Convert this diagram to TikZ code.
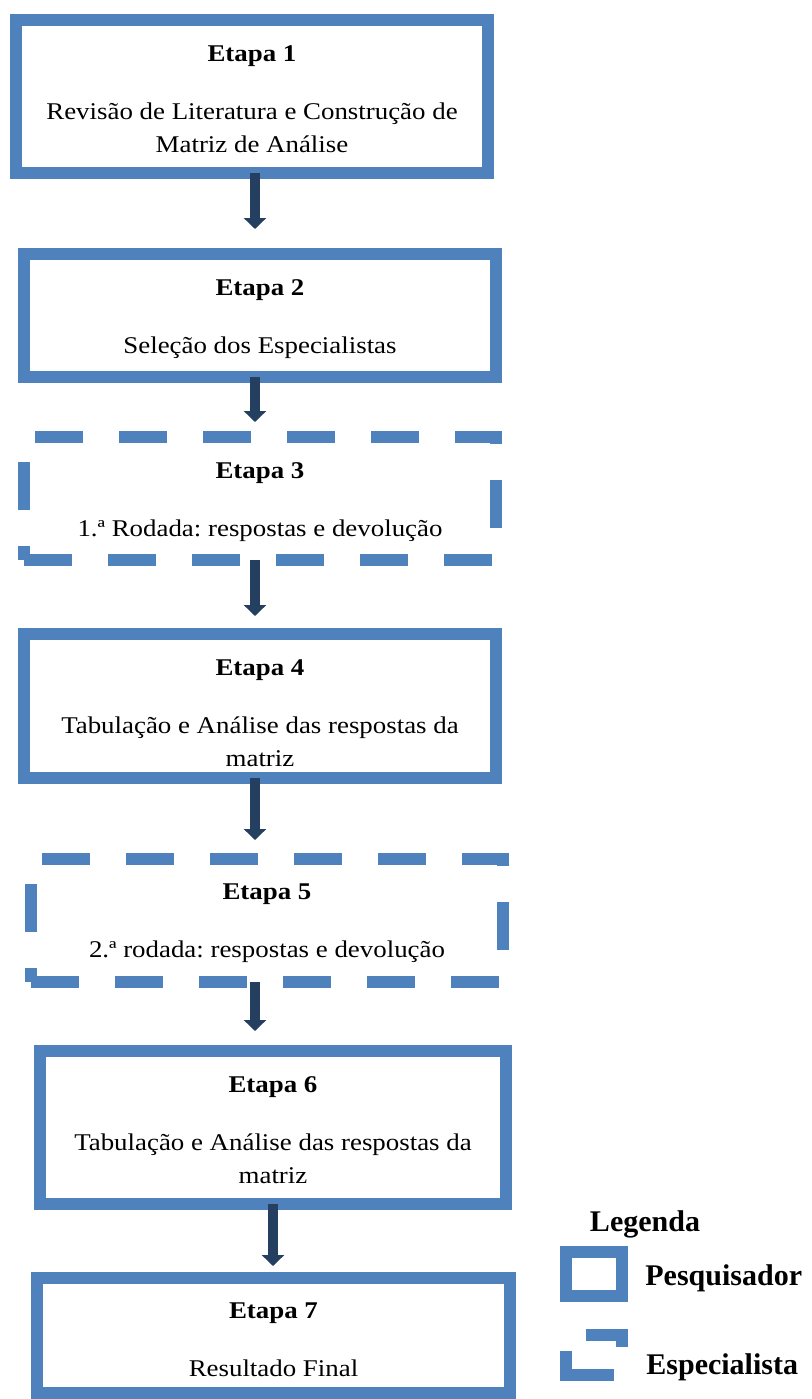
\documentclass[tikz,border=0pt]{standalone}
\usepackage{fontspec}
\setmainfont{Liberation Serif}[FakeStretch=1.12]
\newfontfamily\legendfont{Liberation Serif}
\usetikzlibrary{arrows.meta,positioning}
\definecolor{boxblue}{HTML}{4F81BD}
\definecolor{arrownavy}{HTML}{243F60}
\frenchspacing

\begin{document}
\begin{tikzpicture}[x=0.5pt, y=-0.5pt, every node/.style={font=\fontsize{12}{16.5}\selectfont},
	stepbox/.style={draw=boxblue, line width=6pt, outer sep=0pt, inner sep=0pt},
	specbox/.style={inner sep=0pt, outer sep=0pt},
	specline/.style={draw=boxblue, line width=6pt, dash pattern=on 24pt off 18pt, dash phase=17pt},
	steptext/.style={anchor=north, align=center, inner sep=0pt},
	flow/.style={draw=arrownavy, line width=5pt, -{Triangle[width=11pt, length=5.5pt]}},
	legtext/.style={font=\legendfont\fontsize{15}{18}\selectfont\bfseries, inner sep=0pt}]
	\useasboundingbox (0,0) rectangle (811,1399);
	% etapas
	\node[stepbox, minimum width=236pt, minimum height=76.5pt] (b1) at (252,96.5) {};
	\node[stepbox, minimum width=236pt, minimum height=61.5pt] (b2) at (260,315.5) {};
	\node[specbox, minimum width=236pt, minimum height=61.5pt] (b3) at (260,498.5) {};
	\node[stepbox, minimum width=236pt, minimum height=72pt] (b4) at (260,706) {};
	\node[specbox, minimum width=236pt, minimum height=61.5pt] (b5) at (267,920.5) {};
	\node[stepbox, minimum width=233pt, minimum height=76.5pt] (b6) at (273,1127.5) {};
	\node[stepbox, minimum width=236.5pt, minimum height=57.5pt] (b7) at (273.5,1335.5) {};
	\foreach \b in {b3,b5} {\draw[specline] (\b.south west) -- (\b.north west) -- (\b.north east) -- (\b.south east) -- cycle;}
	\node[steptext] (t1) at ([yshift=-12.4pt]b1.north) {\textbf{Etapa 1}\\[12.5pt]Revisão de Literatura e Construção de\\Matriz de Análise};
	\node[steptext] (t2) at ([yshift=-12.4pt]b2.north) {\textbf{Etapa 2}\\[12.5pt]Seleção dos Especialistas};
	\node[steptext] (t3) at ([yshift=-12.4pt]b3.north) {\textbf{Etapa 3}\\[12.5pt]1.ª Rodada: respostas e devolução};
	\node[steptext] (t4) at ([yshift=-12.4pt]b4.north) {\textbf{Etapa 4}\\[12.5pt]Tabulação e Análise das respostas da\\matriz};
	\node[steptext] (t5) at ([yshift=-12.4pt]b5.north) {\textbf{Etapa 5}\\[12.5pt]2.ª rodada: respostas e devolução};
	\node[steptext] (t6) at ([yshift=-12.4pt]b6.north) {\textbf{Etapa 6}\\[12.5pt]Tabulação e Análise das respostas da\\matriz};
	\node[steptext] (t7) at ([yshift=-12.4pt]b7.north) {\textbf{Etapa 7}\\[12.5pt]Resultado Final};
	% setas
	\coordinate (axis) at (255,0);
	\coordinate (axis6) at (273,0);
	\foreach \a/\b/\s in {b1/b2/12.5pt, b2/b3/7.5pt, b3/b4/9pt, b4/b5/9.5pt, b5/b6/10pt} {\draw[flow, shorten >=\s] (\a.south -| axis) -- (\b.north -| axis);}
	\draw[flow, shorten >=6pt] (b6.south -| axis6) -- (b7.north -| axis6);
	% legenda
	\node[legtext] (leg) at (645,1224) {Legenda};
	\node[stepbox, minimum width=28pt, minimum height=22pt] (lpbox) at (594,1274) {};
	\node[legtext, anchor=west] (lp) at (645,1278) {Pesquisador};
	\node[specbox, minimum width=28pt, minimum height=20pt] (lsbox) at (594,1355) {};
	\draw[boxblue, line width=6pt] ([xshift=10pt]lsbox.north west) -- (lsbox.north east) -- ([yshift=-6pt]lsbox.north east);
	\draw[boxblue, line width=6pt] ([yshift=12pt]lsbox.south west) -- (lsbox.south west) -- ([xshift=-4pt]lsbox.south east);
	\node[legtext, anchor=west] (ls) at (646,1367) {Especialista};
\end{tikzpicture}
\end{document}
